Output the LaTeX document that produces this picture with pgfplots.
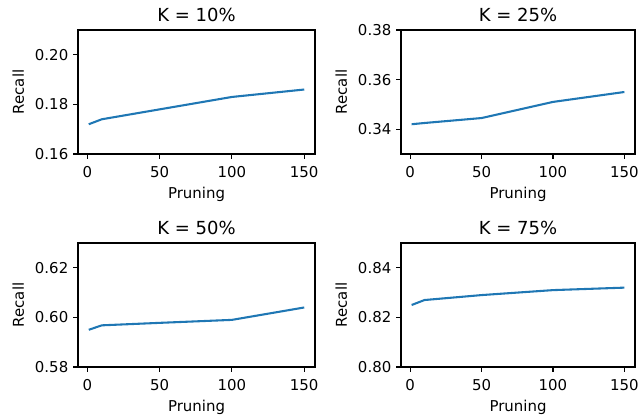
\documentclass[border=0pt]{standalone}
\usepackage{pgfplots}
\pgfplotsset{compat=1.18}
\usepackage{fontspec}
\setmainfont{DejaVu Sans}
\definecolor{mplblue}{HTML}{1F77B4}
\pgfplotsset{
  sub/.style={
    scale only axis, height=1.24in, anchor=south west,
    xmin=-6.45, xmax=157.45, xtick={0,50,100,150},
    tick pos=left, tick align=outside, major tick length=3.5pt,
    every tick/.style={black, line width=0.8pt},
    axis line style={line width=0.8pt},
    xlabel={Pruning}, ylabel={Recall},
    label style={font=\fontsize{10.8}{13}\selectfont},
    tick label style={font=\fontsize{10.8}{13}\selectfont},
    xticklabel style={yshift=-2pt},
    xlabel style={yshift=0pt},
    ylabel style={yshift=1pt},
    title style={font=\fontsize{13}{15}\selectfont, yshift=-3.5pt},
    /pgf/number format/assume math mode=true,
    yticklabel style={/pgf/number format/fixed, /pgf/number format/fixed zerofill, /pgf/number format/precision=2},
    scaled y ticks=false,
  },
  ln/.style={mplblue, line width=1.5pt, mark=none},
}
\begin{document}
\begin{tikzpicture}
\useasboundingbox (0,0) rectangle (6.4in,4.16in);
\begin{axis}[sub, at={(0.78in,2.62in)}, width=2.37in, title={K = 10\%},
  ymin=0.16, ymax=0.21, ytick={0.16,0.18,0.20}]
\addplot[ln] coordinates {(1,0.172) (10,0.174) (50,0.178) (100,0.183) (150,0.186)};
\end{axis}
\begin{axis}[sub, at={(4.01in,2.62in)}, width=2.34in, title={K = 25\%},
  ymin=0.33, ymax=0.38, ytick={0.34,0.36,0.38}]
\addplot[ln] coordinates {(1,0.342) (10,0.3425) (50,0.3445) (100,0.351) (150,0.355)};
\end{axis}
\begin{axis}[sub, at={(0.78in,0.49in)}, width=2.37in, title={K = 50\%},
  ymin=0.58, ymax=0.63, ytick={0.58,0.60,0.62}]
\addplot[ln] coordinates {(1,0.595) (10,0.5968) (50,0.5978) (100,0.599) (150,0.604)};
\end{axis}
\begin{axis}[sub, at={(4.01in,0.49in)}, width=2.34in, title={K = 75\%},
  ymin=0.80, ymax=0.85, ytick={0.80,0.82,0.84}]
\addplot[ln] coordinates {(1,0.825) (10,0.827) (50,0.829) (100,0.831) (150,0.832)};
\end{axis}
\end{tikzpicture}
\end{document}
